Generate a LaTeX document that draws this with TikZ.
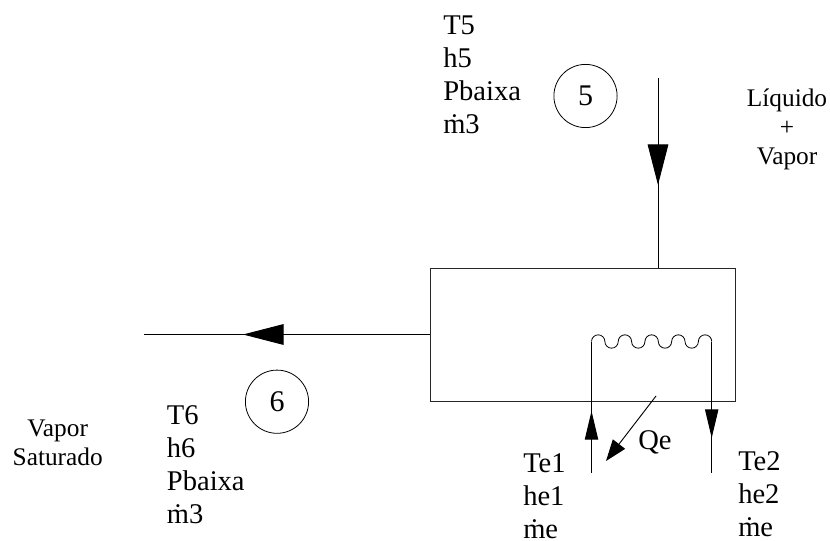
\documentclass[tikz,border=0pt]{standalone}
\usepackage{fontspec}
\setmainfont{Liberation Serif}
\usetikzlibrary{arrows.meta}
\tikzset{
  x=0.75pt, y=-0.75pt,
  pipe/.style={draw=black, line width=0.7pt},
  box/.style={draw=black!85, line width=0.8pt},
  headbig/.style={line width=0.7pt, -{Triangle[length=30.5pt, width=15.5pt]}},
  headsmall/.style={line width=0.7pt, -{Triangle[length=21.5pt, width=10pt]}},
  headq/.style={line width=0.7pt, -{Triangle[length=16pt, width=11.5pt]}},
  statecircle/.style={circle, draw=black, line width=0.6pt, minimum size=47.4pt, inner sep=0pt, font=\fontsize{22.5pt}{26pt}\selectfont},
  vars/.style={inner sep=0pt, align=left, anchor=north west, font=\fontsize{21.4pt}{24.75pt}\selectfont},
  phase/.style={inner sep=0pt, align=center, anchor=north, font=\fontsize{19pt}{21.6pt}\selectfont},
}
\begin{document}
\begin{tikzpicture}
\useasboundingbox (0,0) rectangle (830,541);
% evaporator shell
\node[box, minimum width=228.4pt, minimum height=99.75pt, inner sep=0pt, anchor=north west] (shell) at (430,268) {};
% named points
\coordinate (in5) at (658,78);
\coordinate (in5b) at (658,268);
\coordinate (h5a) at (658,144);
\coordinate (h5b) at (658,185);
\coordinate (out6) at (144,334.5);
\coordinate (out6b) at (430,334.5);
\coordinate (h6a) at (283,334.5);
\coordinate (h6b) at (243,334.5);
\coordinate (c1) at (591.5,341.5);
\coordinate (c1e) at (591.5,473);
\coordinate (c2) at (711.7,341.5);
\coordinate (c2e) at (711.7,473);
\coordinate (h1a) at (591.5,439);
\coordinate (h1b) at (591.5,411);
\coordinate (h2a) at (711.7,409);
\coordinate (h2b) at (711.7,438);
\coordinate (qa) at (656,396);
\coordinate (qb) at (606,461);
% pipes
\draw[pipe] (in5) -- (in5b);
\draw[headbig] (h5a) -- (h5b);
\draw[pipe] (out6b) -- (out6);
\draw[headbig] (h6a) -- (h6b);
\draw[pipe] (c1e) -- (c1);
\draw[pipe] (c2) -- (c2e);
\draw[headsmall] (h1a) -- (h1b);
\draw[headsmall] (h2a) -- (h2b);
% coil of semicircles
\draw[line width=0.6pt] (c1)
  arc[start angle=180,end angle=0,radius=5.01pt]
  arc[start angle=180,end angle=360,radius=5.01pt]
  arc[start angle=180,end angle=0,radius=5.01pt]
  arc[start angle=180,end angle=360,radius=5.01pt]
  arc[start angle=180,end angle=0,radius=5.01pt]
  arc[start angle=180,end angle=360,radius=5.01pt]
  arc[start angle=180,end angle=0,radius=5.01pt]
  arc[start angle=180,end angle=360,radius=5.01pt]
  arc[start angle=180,end angle=0,radius=5.01pt];
\draw[headq] (qa) -- (qb);
% state circles
\node[statecircle] (s5) at (585.5,96) {5};
\node[statecircle] (s6) at (277,401.7) {6};
% texts
\node[vars] (v5) at (443,16) {T5\\h5\\Pbaixa\\\.m3};
\node[vars] (v6) at (166.7,405) {T6\\h6\\Pbaixa\\\.m3};
\node[vars] (ve1) at (523,453) {Te1\\he1\\\.me};
\node[vars] (ve2) at (738,451) {Te2\\he2\\\.me};
\node[vars] (qe) at (638,430) {Qe};
\node[phase] (lv) at (787,89) {Líquido\\+\\Vapor};
\node[phase] (vs) at (57.7,420) {Vapor\\Saturado};
\end{tikzpicture}
\end{document}
